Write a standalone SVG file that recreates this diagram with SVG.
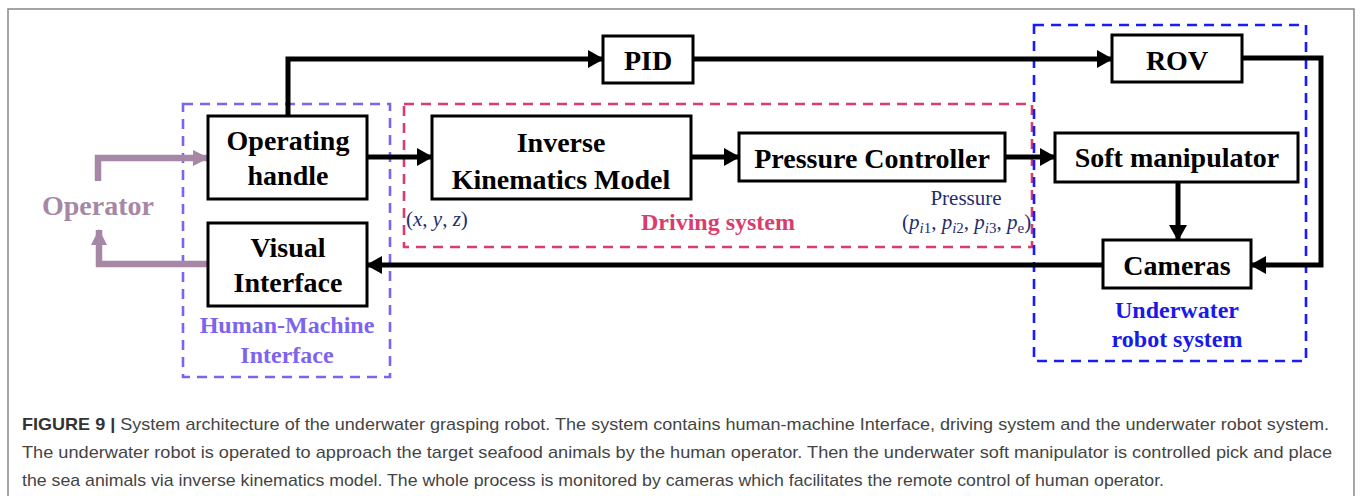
<svg xmlns="http://www.w3.org/2000/svg" width="1360" height="496" viewBox="0 0 1360 496">
<defs>
<style>
.box{fill:#fff;stroke:#000;stroke-width:3}
.bt{font-family:"Liberation Serif","Times New Roman",serif;font-weight:bold;font-size:28px;fill:#000;text-anchor:middle}
.conn{fill:none;stroke:#000;stroke-width:5}
.pconn{fill:none;stroke:#a687a6;stroke-width:6.5}
.grp{fill:none;stroke-width:2.6;stroke-dasharray:10 7}
.gl{font-family:"Liberation Serif","Times New Roman",serif;font-weight:bold;font-size:24px;text-anchor:middle}
.math{font-family:"Liberation Serif","Times New Roman",serif;font-size:21px;fill:#1f2d6e}
.cap{font-family:"Liberation Sans",Arial,sans-serif;font-size:17px;fill:#444}
</style>
<marker id="ah" markerUnits="userSpaceOnUse" markerWidth="16" markerHeight="18" refX="15" refY="9" orient="auto">
<path d="M0,0 L16,9 L0,18 Z" fill="#000"/>
</marker>
<marker id="ahp" markerUnits="userSpaceOnUse" markerWidth="16" markerHeight="18" refX="15" refY="9" orient="auto">
<path d="M0,1 L16,9 L0,17 Z" fill="#a687a6"/>
</marker>
</defs>
<rect x="0" y="0" width="1360" height="496" fill="#fff"/>
<path d="M8,500 V9 H1354 V500" fill="none" stroke="#888" stroke-width="1.5"/>

<g id="groups">
<rect class="grp" x="183" y="104" width="207" height="273" stroke="#7c64ee"/>
<rect class="grp" x="404" y="104" width="628" height="143" stroke="#d93d6e"/>
<rect class="grp" x="1034" y="25" width="272" height="336" stroke="#1a1aff"/>
<text class="gl" x="287" y="333" fill="#7c64ee">Human-Machine</text>
<text class="gl" x="287" y="363" fill="#7c64ee">Interface</text>
<text class="gl" x="718" y="230" fill="#d93d6e">Driving system</text>
<text class="gl" x="1177" y="318" fill="#1a1ae8">Underwater</text>
<text class="gl" x="1177" y="347" fill="#1a1ae8">robot system</text>
</g>

<g id="connectors">
<path class="conn" d="M288,116 V59 H603" marker-end="url(#ah)"/>
<path class="conn" d="M693,59 H1112" marker-end="url(#ah)"/>
<path class="conn" d="M1242,58 H1321 V265 H1251" marker-end="url(#ah)"/>
<path class="conn" d="M367,157 H432" marker-end="url(#ah)"/>
<path class="conn" d="M691,157 H739" marker-end="url(#ah)"/>
<path class="conn" d="M1005,157 H1055" marker-end="url(#ah)"/>
<path class="conn" d="M1178,182 V240" marker-end="url(#ah)"/>
<path class="conn" d="M1103,265 H367" marker-end="url(#ah)"/>
<path class="pconn" d="M98,181 V158 H208" marker-end="url(#ahp)"/>
<path class="pconn" d="M208,264 H99 V230" marker-end="url(#ahp)"/>
</g>

<g id="operator">
<text class="bt" x="98" y="215" style="fill:#a687a6">Operator</text>
</g>
<g id="operating-handle">
<rect class="box" x="208" y="116" width="159" height="83"/>
<text class="bt" x="288" y="150">Operating</text>
<text class="bt" x="288" y="185">handle</text>
</g>
<g id="visual-interface">
<rect class="box" x="208" y="223" width="159" height="83"/>
<text class="bt" x="288" y="257">Visual</text>
<text class="bt" x="288" y="292">Interface</text>
</g>
<g id="pid">
<rect class="box" x="603" y="36" width="90" height="47"/>
<text class="bt" x="648" y="70">PID</text>
</g>
<g id="inverse-kinematics">
<rect class="box" x="432" y="116" width="259" height="83"/>
<text class="bt" x="561" y="152">Inverse</text>
<text class="bt" x="561" y="189">Kinematics Model</text>
</g>
<g id="pressure-controller">
<rect class="box" x="739" y="133" width="266" height="48"/>
<text class="bt" x="872" y="168">Pressure Controller</text>
</g>
<g id="rov">
<rect class="box" x="1112" y="35" width="130" height="47"/>
<text class="bt" x="1177" y="70">ROV</text>
</g>
<g id="soft-manipulator">
<rect class="box" x="1055" y="133" width="243" height="49"/>
<text class="bt" x="1177" y="167">Soft manipulator</text>
</g>
<g id="cameras">
<rect class="box" x="1103" y="240" width="148" height="48"/>
<text class="bt" x="1177" y="275">Cameras</text>
</g>

<g id="labels">
<text class="math" x="406" y="226">(<tspan font-style="italic">x</tspan>, <tspan font-style="italic">y</tspan>, <tspan font-style="italic">z</tspan>)</text>
<text class="math" x="966" y="205" text-anchor="middle">Pressure</text>
<text class="math" x="902" y="229">(<tspan font-style="italic">p</tspan><tspan font-size="15" dy="4"><tspan font-style="italic">i</tspan>1</tspan><tspan dy="-4">, </tspan><tspan font-style="italic">p</tspan><tspan font-size="15" dy="4"><tspan font-style="italic">i</tspan>2</tspan><tspan dy="-4">, </tspan><tspan font-style="italic">p</tspan><tspan font-size="15" dy="4"><tspan font-style="italic">i</tspan>3</tspan><tspan dy="-4">, </tspan><tspan font-style="italic">p</tspan><tspan font-size="15" dy="4">e</tspan><tspan dy="-4">)</tspan></text>
</g>

<g id="caption">
<text class="cap" x="22" y="430" textLength="1307" lengthAdjust="spacingAndGlyphs"><tspan font-weight="bold" fill="#333">FIGURE 9 |</tspan> System architecture of the underwater grasping robot. The system contains human-machine Interface, driving system and the underwater robot system.</text>
<text class="cap" x="22" y="458" textLength="1310" lengthAdjust="spacingAndGlyphs">The underwater robot is operated to approach the target seafood animals by the human operator. Then the underwater soft manipulator is controlled pick and place</text>
<text class="cap" x="22" y="486" textLength="1142" lengthAdjust="spacingAndGlyphs">the sea animals via inverse kinematics model. The whole process is monitored by cameras which facilitates the remote control of human operator.</text>
</g>
</svg>
